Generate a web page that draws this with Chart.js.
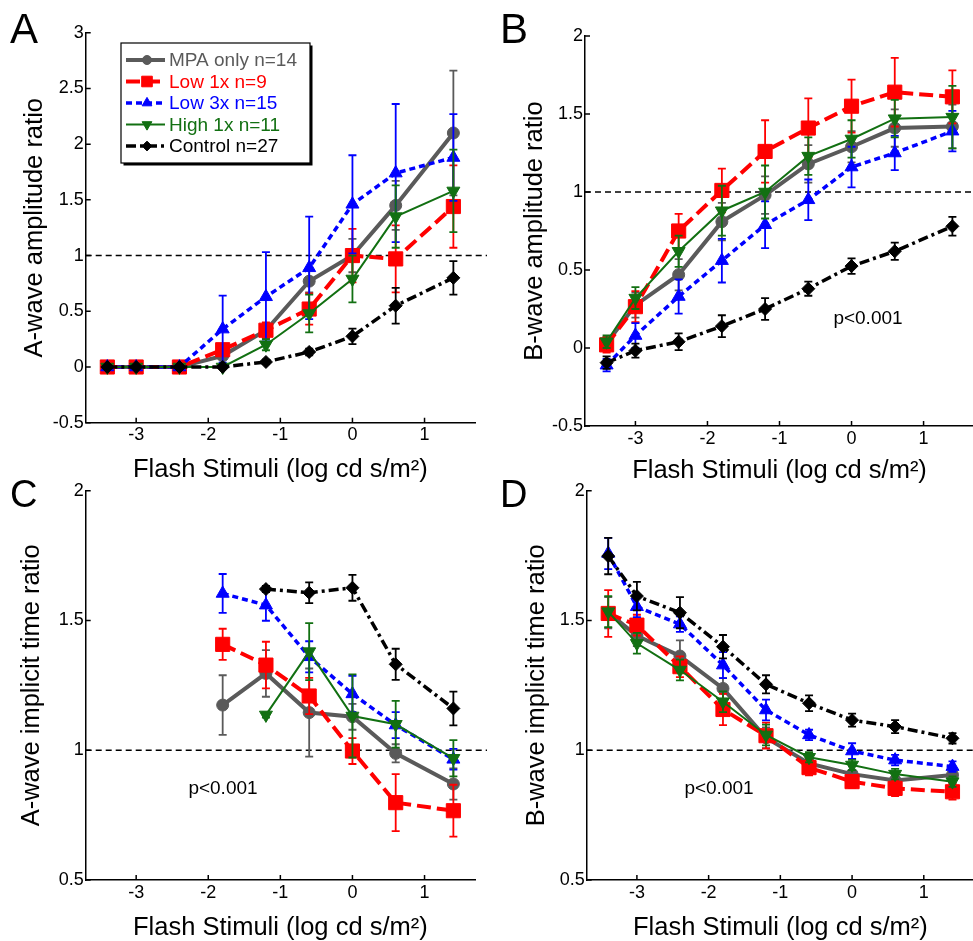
<!DOCTYPE html>
<html>
<head>
<meta charset="utf-8">
<script src="https://cdn.jsdelivr.net/npm/chart.js@4"></script>
<style>
  body { margin: 0; background: #fff; font-family: "Liberation Sans", Arial, Helvetica, sans-serif; }
  #fig { position: relative; width: 973px; height: 941px; overflow: hidden; background: #fff; }
  #fig canvas { position: absolute; }
  .letter { position: absolute; line-height: 1; color: #000; }
  .pval { position: absolute; font-size: 19px; line-height: 1; color: #000; transform: translate(-50%, -50%); white-space: nowrap; }
</style>
</head>
<body>
<div id="fig">
  <canvas id="panelA" width="490" height="486" style="left:0;top:0"></canvas>
  <canvas id="panelB" width="500" height="486" style="left:485px;top:0"></canvas>
  <canvas id="panelC" width="490" height="471" style="left:0;top:470px"></canvas>
  <canvas id="panelD" width="500" height="471" style="left:485px;top:470px"></canvas>
  <div class="letter" style="left:10px;top:8px;font-size:42px">A</div>
  <div class="letter" style="left:500px;top:8px;font-size:42px">B</div>
  <div class="letter" style="left:10px;top:475px;font-size:38px">C</div>
  <div class="letter" style="left:500px;top:475px;font-size:38px">D</div>
  <div class="pval" style="left:868px;top:317px">p&lt;0.001</div>
  <div class="pval" style="left:223px;top:787px">p&lt;0.001</div>
  <div class="pval" style="left:719px;top:787px">p&lt;0.001</div>
</div>
<script>
// flash intensities (log cd s/m^2), shared by every panel
const xStimuli = [-3.4, -3, -2.4, -1.8, -1.2, -0.6, 0, 0.6, 1.4];
const xTickValues = [-3, -2, -1, 0, 1];
const seriesLabels = ['MPA only n=14', 'Low 1x n=9', 'Low 3x n=15', 'High 1x n=11', 'Control n=27'];
const refLevel = 1; // dashed line at ratio 1

// A: a-wave amplitude ratio
const aAmpTicks = [-0.5, 0, 0.5, 1, 1.5, 2, 2.5, 3];
const aAmpMpa = [0, 0, 0, 0.10, 0.33, 0.77, 1.00, 1.45, 2.10];
const aAmpMpaErr = [0, 0, 0, 0.03, 0.06, 0.10, 0.15, 0.22, 0.56];
const aAmpLow1 = [0, 0, 0, 0.155, 0.33, 0.52, 1.00, 0.97, 1.44];
const aAmpLow1Err = [0, 0, 0, 0.05, 0.07, 0.14, 0.24, 0.30, 0.37];
const aAmpLow3 = [0, 0, 0, 0.34, 0.63, 0.89, 1.46, 1.74, 1.88];
const aAmpLow3Err = [0, 0, 0, 0.30, 0.40, 0.46, 0.44, 0.62, 0.39];
const aAmpHigh1 = [0, 0, 0, 0.0, 0.20, 0.48, 0.79, 1.35, 1.58];
const aAmpHigh1Err = [0, 0, 0, 0.01, 0.05, 0.17, 0.21, 0.28, 0.37];
const aAmpCtrl = [0, 0, 0, 0, 0.045, 0.135, 0.275, 0.55, 0.80];
const aAmpCtrlErr = [0, 0, 0, 0, 0.02, 0.03, 0.07, 0.16, 0.15];

// B: b-wave amplitude ratio
const bAmpTicks = [-0.5, 0, 0.5, 1, 1.5, 2];
const bAmpMpa = [0.03, 0.275, 0.47, 0.81, 0.98, 1.18, 1.29, 1.41, 1.42];
const bAmpMpaErr = [0.04, 0.08, 0.10, 0.12, 0.12, 0.12, 0.10, 0.12, 0.14];
const bAmpLow1 = [0.02, 0.265, 0.75, 1.01, 1.26, 1.41, 1.55, 1.64, 1.61];
const bAmpLow1Err = [0.05, 0.10, 0.11, 0.14, 0.20, 0.19, 0.17, 0.22, 0.17];
const bAmpLow3 = [-0.11, 0.08, 0.33, 0.56, 0.79, 0.95, 1.16, 1.25, 1.39];
const bAmpLow3Err = [0.04, 0.08, 0.11, 0.14, 0.15, 0.13, 0.13, 0.11, 0.13];
const bAmpHigh1 = [0.04, 0.32, 0.62, 0.88, 1.00, 1.23, 1.34, 1.47, 1.48];
const bAmpHigh1Err = [0.04, 0.07, 0.10, 0.16, 0.17, 0.12, 0.12, 0.12, 0.20];
const bAmpCtrl = [-0.094, -0.017, 0.04, 0.14, 0.25, 0.38, 0.525, 0.62, 0.78];
const bAmpCtrlErr = [0.04, 0.045, 0.054, 0.07, 0.07, 0.045, 0.05, 0.055, 0.06];

// C: a-wave implicit time ratio
const timeTicks = [0.5, 1, 1.5, 2];
const aTimeMpa = [null, null, null, 1.174, 1.296, 1.145, 1.129, 0.988, 0.87];
const aTimeMpaErr = [0, 0, 0, 0.115, 0.09, 0.17, 0.05, 0.035, 0.06];
const aTimeLow1 = [null, null, null, 1.408, 1.328, 1.209, 0.997, 0.798, 0.767];
const aTimeLow1Err = [0, 0, 0, 0.06, 0.09, 0.07, 0.05, 0.11, 0.10];
const aTimeLow3 = [null, null, null, 1.604, 1.559, 1.36, 1.217, 1.097, 0.965];
const aTimeLow3Err = [0, 0, 0, 0.075, 0.06, 0.06, 0.07, 0.05, 0.04];
const aTimeHigh1 = [null, null, null, null, 1.136, 1.38, 1.132, 1.10, 0.969];
const aTimeHigh1Err = [0, 0, 0, 0, 0.01, 0.11, 0.16, 0.09, 0.07];
const aTimeCtrl = [null, null, null, null, 1.621, 1.607, 1.626, 1.331, 1.161];
const aTimeCtrlErr = [0, 0, 0, 0, 0.012, 0.04, 0.05, 0.06, 0.065];

// D: b-wave implicit time ratio
const bTimeMpa = [1.53, 1.441, 1.363, 1.238, 1.048, 0.949, 0.908, 0.883, 0.905];
const bTimeMpaErr = [0.06, 0.04, 0.06, 0.04, 0.04, 0.03, 0.03, 0.03, 0.03];
const bTimeLow1 = [1.527, 1.482, 1.322, 1.157, 1.056, 0.933, 0.879, 0.853, 0.84];
const bTimeLow1Err = [0.09, 0.04, 0.04, 0.06, 0.05, 0.03, 0.025, 0.03, 0.03];
const bTimeLow3 = [1.758, 1.553, 1.486, 1.328, 1.155, 1.059, 0.997, 0.962, 0.937];
const bTimeLow3Err = [0.06, 0.04, 0.03, 0.05, 0.04, 0.02, 0.03, 0.02, 0.02];
const bTimeHigh1 = [1.534, 1.412, 1.309, 1.187, 1.059, 0.973, 0.943, 0.908, 0.879];
const bTimeHigh1Err = [0.06, 0.04, 0.04, 0.04, 0.04, 0.02, 0.02, 0.02, 0.02];
const bTimeCtrl = [1.748, 1.594, 1.53, 1.399, 1.254, 1.181, 1.116, 1.091, 1.046];
const bTimeCtrlErr = [0.07, 0.055, 0.06, 0.045, 0.035, 0.03, 0.025, 0.025, 0.02];

const FONT = '"Liberation Sans", Arial, Helvetica, sans-serif';
Chart.defaults.font.family = FONT;
Chart.defaults.color = '#000';

// matlab-ish line / marker styles, same order as seriesLabels
const seriesStyles = [
  { color: '#5a5a5a', width: 4, dash: [], point: 'circle', radius: 6, rotation: 0 },
  { color: '#ff0000', width: 4, dash: [14, 6], point: 'rect', radius: 10, rotation: 0 },
  { color: '#0000ff', width: 3.5, dash: [6, 4], point: 'triangle', radius: 7.5, rotation: 0 },
  { color: '#127012', width: 2, dash: [], point: 'triangle', radius: 7.5, rotation: 180 },
  { color: '#000000', width: 3.5, dash: [10, 4, 3, 4], point: 'rectRot', radius: 6.5, rotation: 0 }
];

// vertical error bars, drawn just under each series
const errorBarPlugin = {
  id: 'errorBars',
  beforeDatasetDraw(chart, args) {
    const ds = chart.data.datasets[args.index];
    if (!ds.errors) return;
    const ctx = chart.ctx;
    const yScale = chart.scales.y;
    ctx.save();
    ctx.strokeStyle = ds.borderColor;
    ctx.lineWidth = 1.8;
    ctx.setLineDash([]);
    args.meta.data.forEach((pt, j) => {
      const v = ds.data[j].y;
      const e = ds.errors[j];
      if (v == null || !e) return;
      const top = yScale.getPixelForValue(v + e);
      const bot = yScale.getPixelForValue(v - e);
      ctx.beginPath();
      ctx.moveTo(pt.x, top); ctx.lineTo(pt.x, bot);
      ctx.moveTo(pt.x - 4, top); ctx.lineTo(pt.x + 4, top);
      ctx.moveTo(pt.x - 4, bot); ctx.lineTo(pt.x + 4, bot);
      ctx.stroke();
    });
    ctx.restore();
  }
};

// dashed reference line + inward tick marks
const axesExtrasPlugin = {
  id: 'axesExtras',
  beforeDatasetsDraw(chart) {
    const { ctx, chartArea } = chart;
    const y = chart.scales.y.getPixelForValue(refLevel);
    ctx.save();
    ctx.strokeStyle = '#000';
    ctx.lineWidth = 1.5;
    ctx.setLineDash([6, 4]);
    ctx.beginPath();
    ctx.moveTo(chartArea.left, y);
    ctx.lineTo(chartArea.right + 12, y);
    ctx.stroke();
    ctx.restore();
  },
  afterDraw(chart) {
    const { ctx, chartArea, scales } = chart;
    ctx.save();
    ctx.strokeStyle = '#000';
    ctx.lineWidth = 1.5;
    ctx.beginPath();
    scales.x.ticks.forEach(t => {
      const x = scales.x.getPixelForValue(t.value);
      ctx.moveTo(x, chartArea.bottom);
      ctx.lineTo(x, chartArea.bottom - 5);
    });
    scales.y.ticks.forEach(t => {
      const y = scales.y.getPixelForValue(t.value);
      ctx.moveTo(chartArea.left, y);
      ctx.lineTo(chartArea.left + 5, y);
    });
    ctx.stroke();
    ctx.restore();
  }
};

Chart.register(errorBarPlugin, axesExtrasPlugin);

// boxed legend with line sample + marker, only on panel A
const boxLegendPlugin = {
  id: 'boxLegend',
  afterDraw(chart) {
    const ctx = chart.ctx;
    const box = { x: 121, y: 43, w: 189, h: 120 };
    ctx.save();
    ctx.fillStyle = '#000';
    ctx.fillRect(box.x + 2.5, box.y + 2.5, box.w, box.h);
    ctx.fillStyle = '#fff';
    ctx.fillRect(box.x, box.y, box.w, box.h);
    ctx.strokeStyle = '#000';
    ctx.lineWidth = 1.2;
    ctx.strokeRect(box.x, box.y, box.w, box.h);
    chart.data.datasets.forEach((ds, i) => {
      const st = seriesStyles[i];
      const y = box.y + 17 + i * 21.5;
      ctx.strokeStyle = st.color;
      ctx.lineWidth = st.width;
      ctx.setLineDash(st.dash);
      ctx.beginPath();
      ctx.moveTo(box.x + 5, y);
      ctx.lineTo(box.x + 44, y);
      ctx.stroke();
      ctx.setLineDash([]);
      ctx.fillStyle = st.color;
      ctx.lineWidth = 1;
      Chart.helpers.drawPoint(ctx, { pointStyle: st.point, rotation: st.rotation, radius: st.radius * 0.75, borderWidth: 1 }, box.x + 26, y);
      ctx.font = '19px ' + FONT;
      ctx.textBaseline = 'middle';
      ctx.textAlign = 'left';
      ctx.fillText(ds.label, box.x + 48, y + 1);
    });
    ctx.restore();
  }
};

function makePanel(id, p) {
  const datasets = seriesLabels.map((label, i) => {
    const st = seriesStyles[i];
    return {
      label: label,
      data: xStimuli.map((x, j) => ({ x: x, y: p.values[i][j] })),
      errors: p.errors[i],
      borderColor: st.color,
      backgroundColor: st.color,
      borderWidth: st.width,
      borderDash: st.dash,
      pointStyle: st.point,
      pointRotation: st.rotation,
      pointRadius: st.radius,
      pointBackgroundColor: st.color,
      pointBorderColor: st.color,
      pointBorderWidth: 1,
      tension: 0,
      fill: false,
      spanGaps: false,
      order: seriesLabels.length - i // control drawn on top, like matlab
    };
  });

  return new Chart(document.getElementById(id), {
    type: 'line',
    data: { datasets: datasets },
    plugins: p.legend ? [boxLegendPlugin] : [],
    options: {
      responsive: false,
      animation: false,
      events: [],
      layout: { padding: { left: 0, top: p.top, right: p.right, bottom: 0 } },
      plugins: { legend: { display: false }, tooltip: { enabled: false } },
      scales: {
        x: {
          type: 'linear',
          min: -3.7,
          max: 1.7,
          afterBuildTicks: s => { s.ticks = xTickValues.map(v => ({ value: v })); },
          afterFit: s => { s.height = p.xHeight; },
          grid: { display: false, drawTicks: false },
          border: { display: true, color: '#000', width: 1.5 },
          ticks: { font: { size: 18 }, color: '#000', padding: p.xTickPad, maxRotation: 0, autoSkip: false, callback: v => String(v) },
          title: { display: true, text: 'Flash Stimuli (log cd s/m²)', color: '#000', font: { size: 25.5, lineHeight: 1 }, padding: { top: 0, bottom: p.xTitlePad } }
        },
        y: {
          type: 'linear',
          min: p.yTicks[0],
          max: p.yTicks[p.yTicks.length - 1],
          afterBuildTicks: s => { s.ticks = p.yTicks.map(v => ({ value: v })); },
          afterFit: s => { s.width = p.yWidth; },
          grid: { display: false, drawTicks: false },
          border: { display: true, color: '#000', width: 1.5 },
          ticks: { font: { size: 18 }, color: '#000', padding: 2, callback: v => String(v) },
          title: { display: true, text: p.yTitle, color: '#000', font: { size: 25.5, lineHeight: 1 }, padding: { top: p.yTitlePad, bottom: 0 } }
        }
      }
    }
  });
}

makePanel('panelA', {
  values: [aAmpMpa, aAmpLow1, aAmpLow3, aAmpHigh1, aAmpCtrl],
  errors: [aAmpMpaErr, aAmpLow1Err, aAmpLow3Err, aAmpHigh1Err, aAmpCtrlErr],
  yTicks: aAmpTicks, yTitle: 'A-wave amplitude ratio', legend: true,
  top: 32.7, right: 15, yWidth: 85.7, xHeight: 63.3, xTickPad: 1.5, xTitlePad: 3.5, yTitlePad: 22.5
});

makePanel('panelB', {
  values: [bAmpMpa, bAmpLow1, bAmpLow3, bAmpHigh1, bAmpCtrl],
  errors: [bAmpMpaErr, bAmpLow1Err, bAmpLow3Err, bAmpHigh1Err, bAmpCtrlErr],
  yTicks: bAmpTicks, yTitle: 'B-wave amplitude ratio', legend: false,
  top: 36, right: 10.4, yWidth: 100, xHeight: 60, xTickPad: 2.5, xTitlePad: 2, yTitlePad: 37.5
});

makePanel('panelC', {
  values: [aTimeMpa, aTimeLow1, aTimeLow3, aTimeHigh1, aTimeCtrl],
  errors: [aTimeMpaErr, aTimeLow1Err, aTimeLow3Err, aTimeHigh1Err, aTimeCtrlErr],
  yTicks: timeTicks, yTitle: 'A-wave implicit time ratio', legend: false,
  top: 20.7, right: 15, yWidth: 85.7, xHeight: 61, xTickPad: 2.2, xTitlePad: 0.5, yTitlePad: 19.5
});

makePanel('panelD', {
  values: [bTimeMpa, bTimeLow1, bTimeLow3, bTimeHigh1, bTimeCtrl],
  errors: [bTimeMpaErr, bTimeLow1Err, bTimeLow3Err, bTimeHigh1Err, bTimeCtrlErr],
  yTicks: timeTicks, yTitle: 'B-wave implicit time ratio', legend: false,
  top: 20.7, right: 8.9, yWidth: 101.7, xHeight: 61, xTickPad: 2.5, xTitlePad: 0.5, yTitlePad: 39.5
});
</script>
</body>
</html>
